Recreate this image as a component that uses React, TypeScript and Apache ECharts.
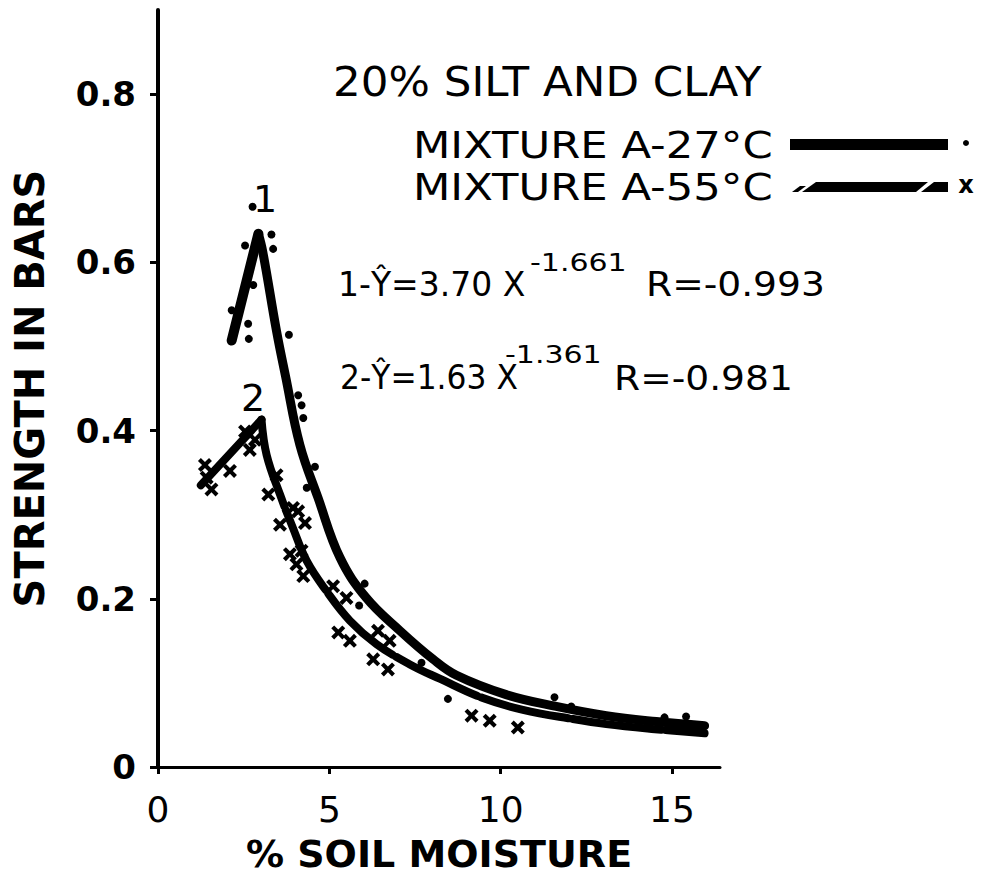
import React, { useEffect, useRef } from "react";
import * as echarts from "echarts";

// Axis ranges and tick positions
const xTicks = [0, 5, 10, 15];
const yTicks = [0, 0.2, 0.4, 0.6, 0.8];
const xMax = 16.4;
const yMax = 0.9;

// Observations, mixture A at 27 °C (dots)
const dots27C: [number, number][] = [
  [2.76, 0.666], [2.54, 0.62], [2.78, 0.573], [2.15, 0.543], [2.63, 0.527],
  [2.65, 0.509], [3.31, 0.633], [3.36, 0.616], [3.82, 0.514], [4.09, 0.442],
  [4.19, 0.43], [4.24, 0.415], [4.34, 0.332], [4.58, 0.357], [5.87, 0.192],
  [6.03, 0.218], [7.69, 0.124], [8.46, 0.081], [11.57, 0.083], [12.06, 0.072],
  [14.78, 0.059], [15.41, 0.06],
];

// Observations, mixture A at 55 °C (crosses)
const crosses55C: [number, number][] = [
  [1.37, 0.359], [1.42, 0.344], [1.56, 0.33], [2.1, 0.352], [2.54, 0.399],
  [2.68, 0.377], [2.83, 0.389], [3.22, 0.324], [3.46, 0.347], [3.56, 0.288],
  [3.85, 0.253], [3.94, 0.308], [4.04, 0.241], [4.09, 0.304], [4.29, 0.29],
  [4.19, 0.257], [4.24, 0.227], [5.11, 0.215], [5.5, 0.201], [5.26, 0.16],
  [5.6, 0.15], [6.42, 0.162], [6.76, 0.15], [6.28, 0.128], [6.71, 0.116],
  [9.15, 0.061], [9.68, 0.055], [10.5, 0.047],
];

// Fitted curve 1 (27 °C): rising limb and power-law limb
const fit27CRise: [number, number][] = [[2.15, 0.507], [2.93, 0.634]];
const fit27CFall: [number, number][] = [
  [2.93, 0.634], [3.06, 0.612], [3.46, 0.518], [3.72, 0.465], [4.14, 0.383],
  [4.67, 0.32], [5.31, 0.249], [6.08, 0.201], [7.06, 0.162], [8.03, 0.128],
  [8.71, 0.109], [10.16, 0.086], [11.62, 0.072], [13.08, 0.061], [14.54, 0.054],
  [15.95, 0.049],
];

// Fitted curve 2 (55 °C)
const fit55CRise: [number, number][] = [[1.25, 0.335], [3.02, 0.413]];
const fit55CFall: [number, number][] = [
  [3.02, 0.413], [3.17, 0.371], [3.56, 0.324], [3.94, 0.284], [4.34, 0.245],
  [4.92, 0.209], [5.6, 0.174], [6.38, 0.146], [7.35, 0.122], [8.22, 0.105],
  [9.48, 0.082], [10.65, 0.068], [12.11, 0.057], [13.08, 0.051], [14.5, 0.045],
  [15.95, 0.04],
];

const titleText = "20% SILT AND CLAY";
const legendLabels = ["MIXTURE A-27°C", "MIXTURE A-55°C"];
const equation1 = ["1-Ŷ=3.70 X", "-1.661", "R=-0.993"];
const equation2 = ["2-Ŷ=1.63 X", "-1.361", "R=-0.981"];

const FONT = "DejaVu Sans";
const INK = "#000";

const crossSymbol =
  "path://M0,2.5 L2.5,0 L6,3.5 L9.5,0 L12,2.5 L8.5,6 L12,9.5 L9.5,12 L6,8.5 L2.5,12 L0,9.5 L3.5,6 Z";

function txt(x: number, y: number, text: string, size: number, opts: any = {}) {
  return {
    type: "text",
    x,
    y,
    scaleX: opts.scaleX ?? 1,
    z: 10,
    style: {
      text,
      fill: INK,
      font: `${opts.weight ?? "normal"} ${size}px "${FONT}"`,
      align: opts.align ?? "left",
      verticalAlign: "middle",
    },
  };
}

export default function App() {
  const ref = useRef<HTMLDivElement>(null);

  useEffect(() => {
    if (!ref.current) return;
    const chart = echarts.init(ref.current, null, { renderer: "svg" });

    const curve = (data: [number, number][], width: number, smooth: boolean, dashed: boolean) => ({
      type: "line",
      data,
      smooth: smooth ? 0.4 : false,
      symbol: "none",
      silent: true,
      z: 3,
      lineStyle: {
        color: INK,
        width,
        cap: "round",
        join: "round",
        type: dashed ? [90, 4] : "solid",
      },
    });

    chart.setOption({
      animation: false,
      backgroundColor: "#fff",
      grid: { left: 158, top: 10, right: 261, bottom: 108 },
      xAxis: {
        type: "value",
        min: 0,
        max: xMax,
        interval: 5,
        splitLine: { show: false },
        axisLine: { lineStyle: { color: INK, width: 3 } },
        axisTick: { customValues: xTicks, length: 7, lineStyle: { color: INK, width: 3 } },
        axisLabel: {
          customValues: xTicks,
          color: INK,
          fontFamily: FONT,
          fontSize: 36,
          margin: 24,
        },
        name: "% SOIL MOISTURE",
        nameLocation: "middle",
        nameGap: 68,
        nameTextStyle: { color: INK, fontFamily: FONT, fontSize: 38, fontWeight: "bold" },
      },
      yAxis: {
        type: "value",
        min: 0,
        max: yMax,
        interval: 0.2,
        splitLine: { show: false },
        axisLine: { lineStyle: { color: INK, width: 4 } },
        axisTick: { customValues: yTicks, length: 8, lineStyle: { color: INK, width: 3 } },
        axisLabel: {
          customValues: yTicks,
          color: INK,
          fontFamily: FONT,
          fontSize: 34,
          fontWeight: "bold",
          margin: 22,
          formatter: (v: number) => (v === 0 ? "0" : v.toFixed(1)),
        },
        name: "STRENGTH IN BARS",
        nameLocation: "middle",
        nameGap: 108,
        nameTextStyle: { color: INK, fontFamily: FONT, fontSize: 40, fontWeight: "bold" },
      },
      series: [
        curve(fit27CRise, 10, false, false),
        curve(fit27CFall, 9, true, false),
        curve(fit55CRise, 8, false, true),
        curve(fit55CFall, 8, true, true),
        {
          type: "scatter",
          data: dots27C,
          symbol: "circle",
          symbolSize: 8,
          itemStyle: { color: INK, opacity: 1 },
          z: 4,
        },
        {
          type: "scatter",
          data: crosses55C,
          symbol: crossSymbol,
          symbolSize: 14,
          itemStyle: { color: INK, opacity: 1 },
          z: 4,
        },
      ],
      graphic: [
        txt(333, 82, titleText, 40, { scaleX: 1.09 }),
        txt(413, 145, legendLabels[0], 38, { scaleX: 1.14 }),
        { type: "rect", shape: { x: 790, y: 139, width: 158, height: 11 }, style: { fill: INK }, z: 10 },
        { type: "circle", shape: { cx: 966, cy: 143, r: 3 }, style: { fill: INK }, z: 10 },
        txt(413, 187, legendLabels[1], 38, { scaleX: 1.14 }),
        {
          type: "polygon",
          shape: { points: [[792, 192], [798, 192], [806, 186], [800, 186]] },
          style: { fill: INK },
          z: 10,
        },
        {
          type: "polygon",
          shape: { points: [[802, 192], [816, 182], [928, 182], [916, 192]] },
          style: { fill: INK },
          z: 10,
        },
        {
          type: "polygon",
          shape: { points: [[921, 192], [934, 182], [948, 182], [948, 192]] },
          style: { fill: INK },
          z: 10,
        },
        txt(966, 185, "x", 24, { weight: "bold", align: "center" }),
        // regression equations
        txt(338, 284, equation1[0], 33),
        txt(530, 262, equation1[1], 25, { scaleX: 1.2 }),
        txt(646, 284, equation1[2], 33, { scaleX: 1.14 }),
        txt(340, 378, equation2[0], 33, { scaleX: 0.95 }),
        txt(505, 354, equation2[1], 25, { scaleX: 1.2 }),
        txt(614, 378, equation2[2], 33, { scaleX: 1.14 }),
        // curve numbers
        txt(265, 199, "1", 38, { align: "center" }),
        txt(253, 398, "2", 38, { align: "center" }),
      ],
    });

    return () => chart.dispose();
  }, []);

  return (
    <div
      ref={ref}
      style={{ position: "fixed", left: 0, top: 0, width: 981, height: 878, background: "#fff" }}
    />
  );
}
